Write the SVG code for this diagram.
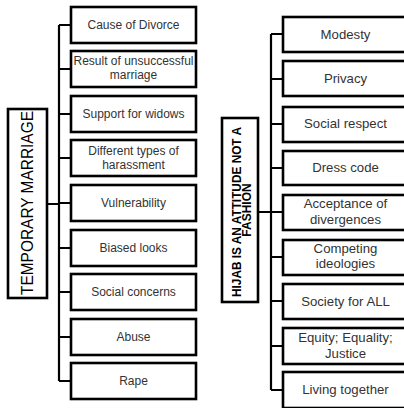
<svg xmlns="http://www.w3.org/2000/svg" width="404" height="408" viewBox="0 0 404 408">
  <style>
    .box { fill: #ffffff; stroke: #000000; stroke-width: 2.6; }
    .wire { fill: none; stroke: #000000; stroke-width: 2.2; }
    .lt { font-family: "Liberation Sans", Arial, sans-serif; font-size: 12px; fill: #333333; text-anchor: middle; }
    .rt { font-family: "Liberation Sans", Arial, sans-serif; font-size: 13.2px; fill: #333333; text-anchor: middle; }
    .t1 { font-family: "Liberation Sans", Arial, sans-serif; font-size: 16px; fill: #000000; text-anchor: middle; }
    .t2 { font-family: "Liberation Sans", Arial, sans-serif; font-size: 12px; font-weight: bold; fill: #000000; text-anchor: middle; }
  </style>
  <rect width="404" height="408" fill="#ffffff"/>

  <!-- connectors -->
  <g id="connectors">
    <!-- left tree -->
    <path class="wire" d="M59 25 V381 M47 204 H59
      M59 25 H71 M59 69 H71 M59 114 H71 M59 158 H71 M59 203 H71
      M59 248 H71 M59 292 H71 M59 337 H71 M59 381 H71"/>
    <!-- right tree -->
    <path class="wire" d="M271 34 V390 M258 212 H271
      M271 34 H283 M271 79 H283 M271 124 H283 M271 168 H283 M271 212 H283
      M271 257 H283 M271 301 H283 M271 346 H283 M271 390 H283"/>
  </g>

  <!-- left title -->
  <g id="temporary-marriage">
    <rect class="box" x="8" y="109" width="39" height="189"/>
    <text class="t1" transform="translate(33 203) rotate(-90)" textLength="184" lengthAdjust="spacingAndGlyphs">TEMPORARY MARRIAGE</text>
  </g>

  <!-- left items -->
  <g id="cause-of-divorce">
    <rect class="box" x="71" y="7" width="125" height="36"/>
    <text class="lt" x="133.5" y="29">Cause of Divorce</text>
  </g>
  <g id="result-of-unsuccessful-marriage">
    <rect class="box" x="71" y="51" width="125" height="36"/>
    <text class="lt" x="133.5" y="65" textLength="120" lengthAdjust="spacingAndGlyphs">Result of unsuccessful</text>
    <text class="lt" x="133.5" y="79">marriage</text>
  </g>
  <g id="support-for-widows">
    <rect class="box" x="71" y="96" width="125" height="36"/>
    <text class="lt" x="133.5" y="118">Support for widows</text>
  </g>
  <g id="different-types-of-harassment">
    <rect class="box" x="71" y="140" width="125" height="36"/>
    <text class="lt" x="133.5" y="155">Different types of</text>
    <text class="lt" x="133.5" y="169">harassment</text>
  </g>
  <g id="vulnerability">
    <rect class="box" x="71" y="185" width="125" height="36"/>
    <text class="lt" x="133.5" y="207">Vulnerability</text>
  </g>
  <g id="biased-looks">
    <rect class="box" x="71" y="230" width="125" height="36"/>
    <text class="lt" x="133.5" y="252">Biased looks</text>
  </g>
  <g id="social-concerns">
    <rect class="box" x="71" y="274" width="125" height="36"/>
    <text class="lt" x="133.5" y="296">Social concerns</text>
  </g>
  <g id="abuse">
    <rect class="box" x="71" y="319" width="125" height="36"/>
    <text class="lt" x="133.5" y="341">Abuse</text>
  </g>
  <g id="rape">
    <rect class="box" x="71" y="363" width="125" height="36"/>
    <text class="lt" x="133.5" y="385">Rape</text>
  </g>

  <!-- right title -->
  <g id="hijab-attitude">
    <rect class="box" x="222" y="118" width="36" height="184"/>
    <text class="t2" transform="translate(241 212) rotate(-90)" textLength="170" lengthAdjust="spacingAndGlyphs">HIJAB IS AN ATTITUDE NOT A</text>
    <text class="t2" transform="translate(251 210) rotate(-90)">FASHION</text>
  </g>

  <!-- right items -->
  <g id="modesty">
    <rect class="box" x="283" y="17" width="125" height="35"/>
    <text class="rt" x="345.5" y="39">Modesty</text>
  </g>
  <g id="privacy">
    <rect class="box" x="283" y="61" width="125" height="35"/>
    <text class="rt" x="345.5" y="83">Privacy</text>
  </g>
  <g id="social-respect">
    <rect class="box" x="283" y="107" width="125" height="35"/>
    <text class="rt" x="345.5" y="128">Social respect</text>
  </g>
  <g id="dress-code">
    <rect class="box" x="283" y="151" width="125" height="34"/>
    <text class="rt" x="345.5" y="172">Dress code</text>
  </g>
  <g id="acceptance-of-divergences">
    <rect class="box" x="283" y="195" width="125" height="35"/>
    <text class="rt" x="345.5" y="208">Acceptance of</text>
    <text class="rt" x="345.5" y="224">divergences</text>
  </g>
  <g id="competing-ideologies">
    <rect class="box" x="283" y="240" width="125" height="35"/>
    <text class="rt" x="345.5" y="253">Competing</text>
    <text class="rt" x="345.5" y="268">ideologies</text>
  </g>
  <g id="society-for-all">
    <rect class="box" x="283" y="284" width="125" height="35"/>
    <text class="rt" x="345.5" y="306">Society for ALL</text>
  </g>
  <g id="equity-equality-justice">
    <rect class="box" x="283" y="328" width="125" height="36"/>
    <text class="rt" x="345.5" y="342">Equity; Equality;</text>
    <text class="rt" x="345.5" y="358">Justice</text>
  </g>
  <g id="living-together">
    <rect class="box" x="283" y="372" width="125" height="36"/>
    <text class="rt" x="345.5" y="394">Living together</text>
  </g>
</svg>
